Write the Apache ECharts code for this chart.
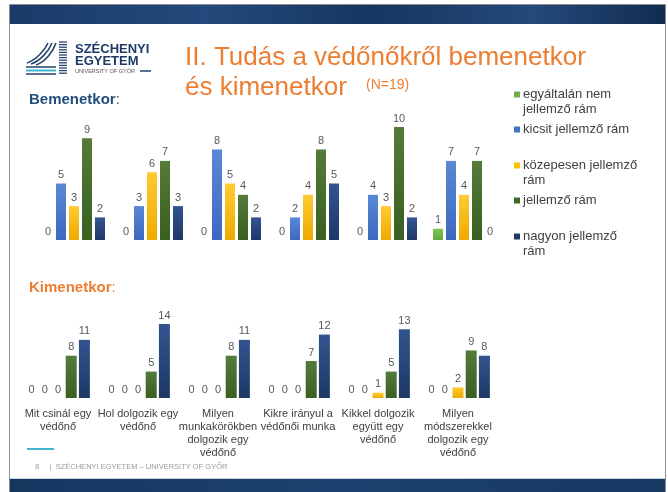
<!DOCTYPE html>
<html>
<head>
<meta charset="utf-8">
<script src="https://cdn.jsdelivr.net/npm/echarts@6/dist/echarts.min.js"></script>
<style>
  html, body { margin: 0; padding: 0; background: #fff; }
  #chart { width: 668px; height: 492px; }
</style>
</head>
<body>
<div id="chart"></div>
<script>
const categories = [
    'Mit csinál egy\nvédőnő',
    'Hol dolgozik egy\nvédőnő',
    'Milyen\nmunkakörökben\ndolgozik egy\nvédőnő',
    'Kikre irányul a\nvédőnői munka',
    'Kikkel dolgozik\negyütt egy\nvédőnő',
    'Milyen\nmódszerekkel\ndolgozik egy\nvédőnő'
];
const seriesNames = [
    'egyáltalán nem\njellemző rám',
    'kicsit jellemző rám',
    'közepesen jellemző\nrám',
    'jellemző rám',
    'nagyon jellemző\nrám'
];

// Bemenetkor (before)
const beforeNone = [0, 0, 0, 0, 0, 1];
const beforeLittle = [5, 3, 8, 2, 4, 7];
const beforeMedium = [3, 6, 5, 4, 3, 4];
const beforeTypical = [9, 7, 4, 8, 10, 7];
const beforeVery = [2, 3, 2, 5, 2, 0];

// Kimenetkor (after)
const afterNone = [0, 0, 0, 0, 0, 0];
const afterLittle = [0, 0, 0, 0, 0, 0];
const afterMedium = [0, 0, 0, 0, 1, 2];
const afterTypical = [8, 5, 8, 7, 5, 9];
const afterVery = [11, 14, 11, 12, 13, 8];

const FONT = 'Liberation Sans';

function grad(top, bottom) {
    return new echarts.graphic.LinearGradient(0, 0, 0, 1, [
        { offset: 0, color: top },
        { offset: 1, color: bottom }
    ]);
}

const colors = [
    grad('#7fc451', '#62a83c'),
    grad('#5a88d6', '#3c69bf'),
    grad('#ffcb30', '#eeaa00'),
    grad('#557a3a', '#396020'),
    grad('#32548f', '#1d3868')
];
const legendColors = ['#70ad47', '#4472c4', '#ffc000', '#3f6a26', '#203a6c'];

const beforeData = [beforeNone, beforeLittle, beforeMedium, beforeTypical, beforeVery];
const afterData = [afterNone, afterLittle, afterMedium, afterTypical, afterVery];

const label = {
    show: true,
    position: 'top',
    distance: 3,
    color: '#595959',
    fontSize: 11,
    fontFamily: FONT
};

let series = [];
beforeData.forEach(function (values, i) {
    series.push({
        name: seriesNames[i],
        type: 'bar',
        xAxisIndex: 0,
        yAxisIndex: 0,
        barWidth: 10,
        barGap: '30%',
        data: values,
        itemStyle: { color: colors[i] },
        label: label,
        silent: true
    });
});
afterData.forEach(function (values, i) {
    series.push({
        name: seriesNames[i],
        type: 'bar',
        xAxisIndex: 1,
        yAxisIndex: 1,
        barWidth: 11,
        barGap: '20%',
        data: values,
        itemStyle: { color: colors[i] },
        label: label,
        silent: true
    });
});

// legend: one block per item so the spacing stays even, second lines as text
const legendTops = [95, 130, 166, 201, 237];
let legends = [];
let legendSecondLines = [];
seriesNames.forEach(function (name, i) {
    legends.push({
        data: [{ name: name, itemStyle: { color: legendColors[i] } }],
        left: 514,
        top: legendTops[i] - 7,
        padding: 0,
        icon: 'rect',
        itemWidth: 6,
        itemHeight: 6,
        itemGap: 0,
        selectedMode: false,
        formatter: function (n) { return n.split('\n')[0]; },
        textStyle: { color: '#404040', fontSize: 13, fontFamily: FONT, padding: [0, 0, 0, -2] }
    });
    const parts = name.split('\n');
    if (parts.length > 1) {
        legendSecondLines.push({
            text: parts[1],
            left: 523,
            top: legendTops[i] + 8,
            padding: 0,
            textStyle: { color: '#404040', fontSize: 13, fontWeight: 'normal', fontFamily: FONT }
        });
    }
});

// logo striped column
let logoStripes = [];
for (let y = 42; y <= 74; y += 2.6) {
    logoStripes.push({
        type: 'line',
        shape: { x1: 59, y1: y, x2: 67, y2: y },
        style: { stroke: '#26426e', lineWidth: 1.3 }
    });
}

const option = {
    backgroundColor: '#ffffff',
    animation: false,
    textStyle: { fontFamily: FONT },
    title: [
        {
            text: 'II. Tudás a védőnőkről bemenetkor',
            left: 185, top: 45, padding: 0,
            textStyle: { color: '#ed7d31', fontSize: 26, fontWeight: 'normal', fontFamily: FONT }
        },
        {
            text: 'és kimenetkor',
            left: 185, top: 75, padding: 0,
            textStyle: { color: '#ed7d31', fontSize: 26, fontWeight: 'normal', fontFamily: FONT }
        },
        {
            text: '(N=19)',
            left: 366, top: 78, padding: 0,
            textStyle: { color: '#ed7d31', fontSize: 14, fontWeight: 'normal', fontFamily: FONT }
        },
        {
            text: '{b|Bemenetkor}{n|:}',
            left: 29, top: 92, padding: 0,
            textStyle: {
                rich: {
                    b: { color: '#1f4e79', fontSize: 15, fontWeight: 'bold', fontFamily: FONT },
                    n: { color: '#1f4e79', fontSize: 15, fontWeight: 'normal', fontFamily: FONT }
                }
            }
        },
        {
            text: '{b|Kimenetkor}{n|:}',
            left: 29, top: 280, padding: 0,
            textStyle: {
                rich: {
                    b: { color: '#ed7d31', fontSize: 15, fontWeight: 'bold', fontFamily: FONT },
                    n: { color: '#ed7d31', fontSize: 15, fontWeight: 'normal', fontFamily: FONT }
                }
            }
        },
        {
            text: 'SZÉCHENYI',
            left: 75, top: 43, padding: 0,
            textStyle: { color: '#1f3a66', fontSize: 13, fontWeight: 'bold', fontFamily: FONT }
        },
        {
            text: 'EGYETEM',
            left: 75, top: 55, padding: 0,
            textStyle: { color: '#1f3a66', fontSize: 13, fontWeight: 'bold', fontFamily: FONT }
        },
        {
            text: 'UNIVERSITY OF GYŐR',
            left: 75, top: 68, padding: 0,
            textStyle: { color: '#555', fontSize: 5.5, fontWeight: 'normal', fontFamily: FONT }
        },
        {
            text: '8     |  SZÉCHENYI EGYETEM – UNIVERSITY OF GYŐR',
            left: 35, top: 463, padding: 0,
            textStyle: { color: '#9a9a9a', fontSize: 7.5, fontWeight: 'normal', fontFamily: FONT }
        }
    ].concat(legendSecondLines),
    legend: legends,
    grid: [
        { left: 35, width: 468, top: 127, height: 113 },
        { left: 18, width: 480, top: 324, height: 74 }
    ],
    xAxis: [
        {
            type: 'category', gridIndex: 0, data: categories,
            axisLine: { show: false }, axisTick: { show: false }, axisLabel: { show: false }
        },
        {
            type: 'category', gridIndex: 1, data: categories,
            axisLine: { show: false }, axisTick: { show: false },
            axisLabel: {
                interval: 0, margin: 9, color: '#404040',
                fontSize: 11, lineHeight: 13, fontFamily: FONT
            }
        }
    ],
    yAxis: [
        { type: 'value', gridIndex: 0, min: 0, max: 10, show: false, splitLine: { show: false } },
        { type: 'value', gridIndex: 1, min: 0, max: 14, show: false, splitLine: { show: false } }
    ],
    graphic: [
        {
            type: 'rect', z: -10,
            shape: { x: 9.5, y: 4.5, width: 656, height: 490 },
            style: { fill: '#ffffff', stroke: '#8c8c8c', lineWidth: 1 }
        },
        {
            type: 'rect', z: -9,
            shape: { x: 10, y: 5, width: 655, height: 19 },
            style: {
                fill: new echarts.graphic.LinearGradient(0, 0, 1, 0, [
                    { offset: 0, color: '#1a3b68' },
                    { offset: 0.3, color: '#234a7c' },
                    { offset: 0.55, color: '#163660' },
                    { offset: 0.8, color: '#24497a' },
                    { offset: 1, color: '#112c52' }
                ])
            }
        },
        {
            type: 'rect', z: -9,
            shape: { x: 10, y: 479, width: 655, height: 13 },
            style: {
                fill: new echarts.graphic.LinearGradient(0, 0, 1, 0, [
                    { offset: 0, color: '#15365f' },
                    { offset: 0.5, color: '#1d426f' },
                    { offset: 1, color: '#163862' }
                ])
            }
        },
        {
            type: 'line', z: -8,
            shape: { x1: 10, y1: 478.5, x2: 665, y2: 478.5 },
            style: { stroke: '#c9d4e2', lineWidth: 1 }
        },
        {
            type: 'line',
            shape: { x1: 27, y1: 449, x2: 54, y2: 449 },
            style: { stroke: '#3fb5cf', lineWidth: 2 }
        },
        // logo symbol
        {
            type: 'bezierCurve',
            shape: { x1: 27, y1: 63, cpx1: 36, cpy1: 60, x2: 48, y2: 43, cpx2: 45, cpy2: 50 },
            style: { stroke: '#26426e', lineWidth: 1.6, fill: null }
        },
        {
            type: 'bezierCurve',
            shape: { x1: 31, y1: 64, cpx1: 40, cpy1: 61, x2: 52, y2: 43, cpx2: 49, cpy2: 51 },
            style: { stroke: '#26426e', lineWidth: 1.6, fill: null }
        },
        {
            type: 'bezierCurve',
            shape: { x1: 36, y1: 65, cpx1: 45, cpy1: 62, x2: 56, y2: 43, cpx2: 53, cpy2: 52 },
            style: { stroke: '#26426e', lineWidth: 1.6, fill: null }
        },
        {
            type: 'line',
            shape: { x1: 26, y1: 67, x2: 56, y2: 67 },
            style: { stroke: '#26426e', lineWidth: 1.5 }
        },
        {
            type: 'line',
            shape: { x1: 26, y1: 70.5, x2: 56, y2: 70.5 },
            style: { stroke: '#3fb5cf', lineWidth: 2 }
        },
        {
            type: 'line',
            shape: { x1: 26, y1: 74, x2: 56, y2: 74 },
            style: { stroke: '#26426e', lineWidth: 1.5 }
        },
        {
            type: 'line',
            shape: { x1: 140, y1: 71, x2: 151, y2: 71 },
            style: { stroke: '#26426e', lineWidth: 1.5 }
        }
    ].concat(logoStripes),
    series: series
};

const chart = echarts.init(document.getElementById('chart'), null, { renderer: 'canvas' });
chart.setOption(option);
</script>
</body>
</html>
